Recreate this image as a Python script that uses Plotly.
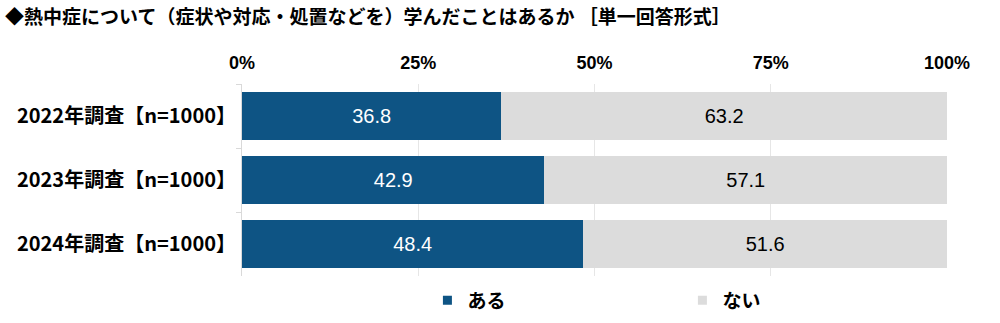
import plotly.graph_objects as go

categories = ["2022年調査【n=1000】", "2023年調査【n=1000】", "2024年調査【n=1000】"]
aru = [36.8, 42.9, 48.4]
nai = [63.2, 57.1, 51.6]
series_names = ["ある", "ない"]
series_colors = ["#0E5484", "#DCDCDC"]
tick_vals = [0, 25, 50, 75, 100]
tick_text = ["0%", "25%", "50%", "75%", "100%"]

JP = "Noto Sans CJK JP"
NUM = "Liberation Sans, Arial"

fig = go.Figure()
fig.add_trace(go.Bar(
    y=categories, x=aru, orientation="h", name=series_names[0], showlegend=False,
    marker=dict(color=series_colors[0], line=dict(width=0)),
    text=[f"{v:.1f}" for v in aru], textposition="inside", insidetextanchor="middle",
    textangle=0, constraintext="none",
    textfont=dict(family=NUM, size=20, color="white"),
))
fig.add_trace(go.Bar(
    y=categories, x=nai, orientation="h", name=series_names[1], showlegend=False,
    marker=dict(color=series_colors[1], line=dict(width=0)),
    text=[f"{v:.1f}" for v in nai], textposition="inside", insidetextanchor="middle",
    textangle=0, constraintext="none",
    textfont=dict(family=NUM, size=20, color="black"),
))
# legend-only markers (small squares like the reference)
for nm, col in zip(series_names, series_colors):
    fig.add_trace(go.Scatter(
        x=[None], y=[None], mode="markers", name=nm, showlegend=True,
        marker=dict(symbol="square", size=9, color=col), hoverinfo="skip",
    ))

fig.update_layout(
    barmode="stack",
    bargap=0.24,
    width=1000, height=323,
    margin=dict(l=242, r=53, t=84, b=47, autoexpand=False),
    paper_bgcolor="white", plot_bgcolor="white",
    showlegend=True,
    legend=dict(orientation="h", traceorder="normal",
                x=0.263, xanchor="left", xref="paper",
                y=0.07, yanchor="middle", yref="container",
                entrywidth=210, entrywidthmode="pixels",
                font=dict(family=JP, size=19, color="black", weight="bold"),
                itemwidth=30, tracegroupgap=0),
    title=dict(text="◆熱中症について（症状や対応・処置などを）学んだことはあるか ［単一回答形式］",
               x=0.005, xanchor="left", y=0.945, yanchor="middle",
               font=dict(family=JP, size=19, color="black", weight="bold")),
    xaxis=dict(range=[0, 100], side="top", tickvals=tick_vals, ticktext=tick_text,
               tickfont=dict(family=NUM, size=18, color="black", weight="bold"),
               showgrid=True, gridcolor="#E6E6E6", gridwidth=1, zeroline=False,
               showline=False, ticks="", ticklabelstandoff=10, fixedrange=True),
    yaxis=dict(categoryorder="array", categoryarray=categories, autorange="reversed",
               tickfont=dict(family=JP, size=20, color="black", weight="bold"),
               showline=True, linecolor="#D9D9D9", linewidth=1,
               ticks="outside", ticklen=5, tickcolor="#D9D9D9", tickson="boundaries",
               ticklabelstandoff=1, showgrid=False),
)

fig.write_html("out.html")
